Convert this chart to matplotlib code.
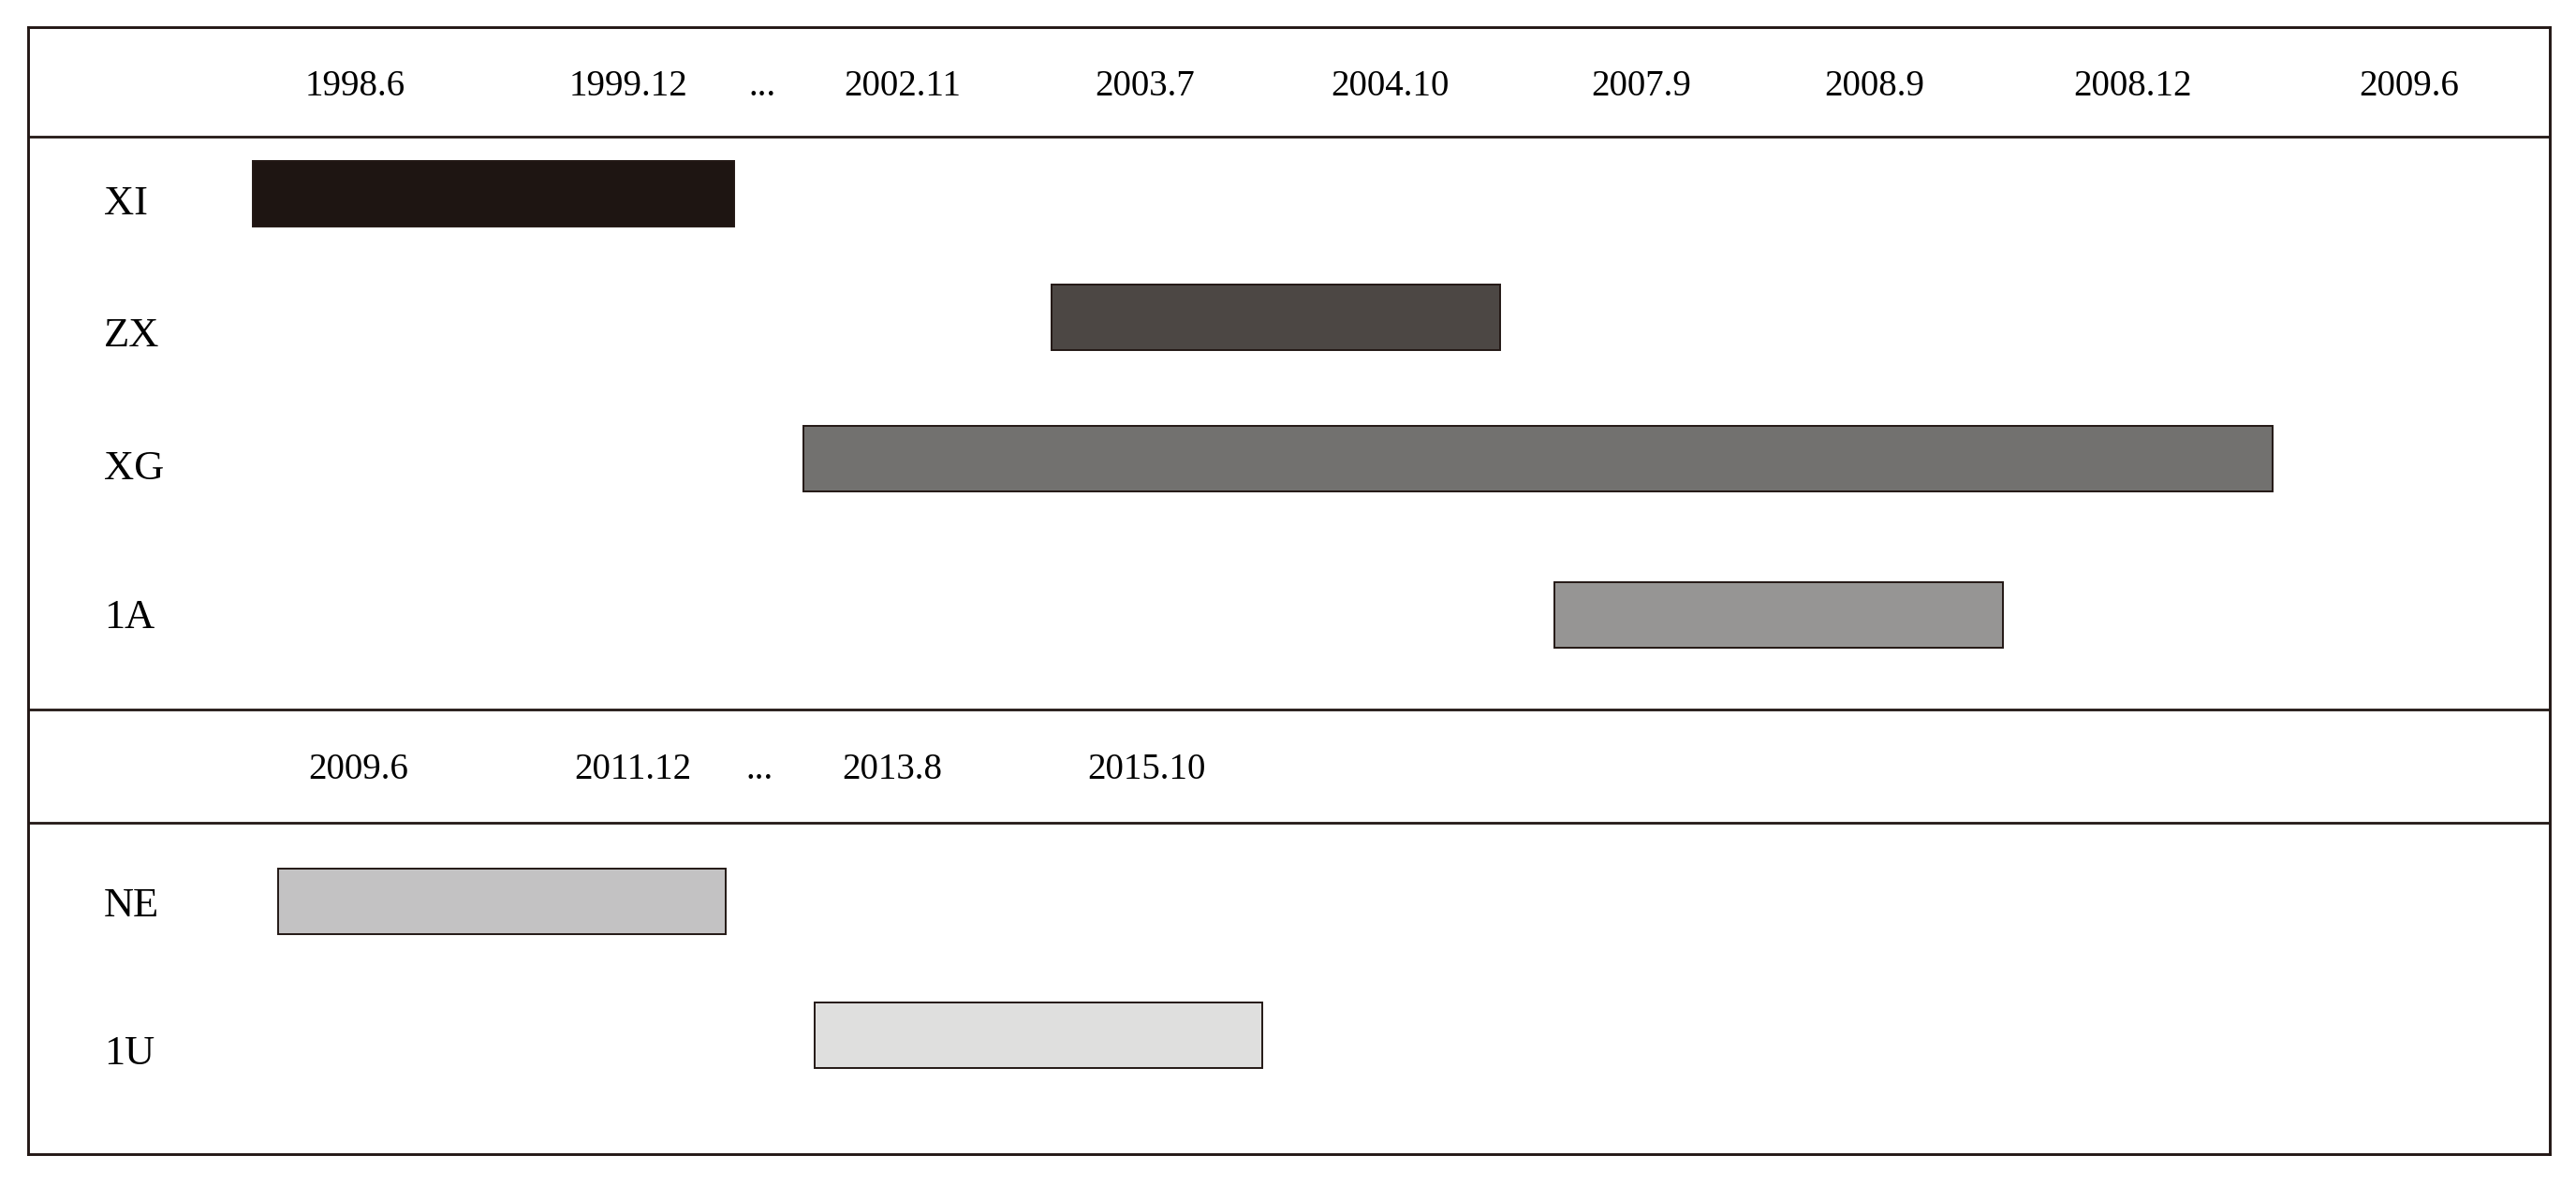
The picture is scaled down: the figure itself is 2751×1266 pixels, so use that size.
import matplotlib
matplotlib.use("Agg")
import matplotlib.pyplot as plt

# header labels of the two periods and where they sit on the timeline (0-100)
top_periods = ["1998.6", "1999.12", "...", "2002.11", "2003.7", "2004.10", "2007.9", "2008.9", "2008.12", "2009.6"]
top_ticks = [12.96, 23.81, 29.12, 34.69, 44.30, 54.01, 63.97, 73.22, 83.45, 94.40]
bottom_periods = ["2009.6", "2011.12", "...", "2013.8", "2015.10"]
bottom_ticks = [13.09, 23.97, 28.99, 34.27, 44.36]

# bars: start / end on the same timeline
top_names = ["XI", "ZX", "XG", "1A"]
top_start = [8.93, 40.59, 30.75, 60.52]
top_end = [28.01, 58.37, 88.99, 78.31]
bottom_names = ["NE", "1U"]
bottom_start = [9.93, 31.21]
bottom_end = [27.67, 48.93]

top_colors = ["#1e1512", "#4c4744", "#72716f", "#969594"]
bottom_colors = ["#c3c2c3", "#dfdfde"]

plt.rcParams["font.family"] = ["Liberation Serif", "DejaVu Serif"]
fs_date = 28
fs_name = 32

W, H = 2751, 1266
fig = plt.figure(figsize=(W / 100, H / 100), dpi=100)
box_l, box_r, box_t, box_b = 30, 2723, 29, 1233
ax = fig.add_axes([box_l / W, 1 - box_b / H, (box_r - box_l) / W, (box_b - box_t) / H])
ax.set_xlim(0, 100)
ax.set_ylim(box_b - box_t, 0)
ax.set_xticks([])
ax.set_yticks([])
for s in ax.spines.values():
    s.set_linewidth(2.1)
    s.set_color("#231815")

# layout of the rows (px from box top)
line_y = [117, 729, 850]
head_y = [63, 794]
top_bar_y = [178, 310, 461, 628]
top_lab_y = [189, 330, 472, 631]
bottom_bar_y = [934, 1077]
bottom_lab_y = [939, 1097]
bar_h = 70
name_x = 3.0

for y in line_y:
    ax.axhline(y, color="#231815", lw=2.0)

for t, x in zip(top_periods, top_ticks):
    ax.text(x, head_y[0], t, fontsize=fs_date, ha="center", va="center")
for t, x in zip(bottom_periods, bottom_ticks):
    ax.text(x, head_y[1], t, fontsize=fs_date, ha="center", va="center")

widths = [e - s for s, e in zip(top_start, top_end)]
ax.barh(top_bar_y, widths, left=top_start, height=bar_h, color=top_colors,
        edgecolor="#231815", linewidth=1.4)
for n, y in zip(top_names, top_lab_y):
    ax.text(name_x, y, n, fontsize=fs_name, ha="left", va="center")

widths = [e - s for s, e in zip(bottom_start, bottom_end)]
ax.barh(bottom_bar_y, widths, left=bottom_start, height=bar_h, color=bottom_colors,
        edgecolor="#231815", linewidth=1.4)
for n, y in zip(bottom_names, bottom_lab_y):
    ax.text(name_x, y, n, fontsize=fs_name, ha="left", va="center")

fig.savefig("out.png", dpi=100, facecolor="white")
